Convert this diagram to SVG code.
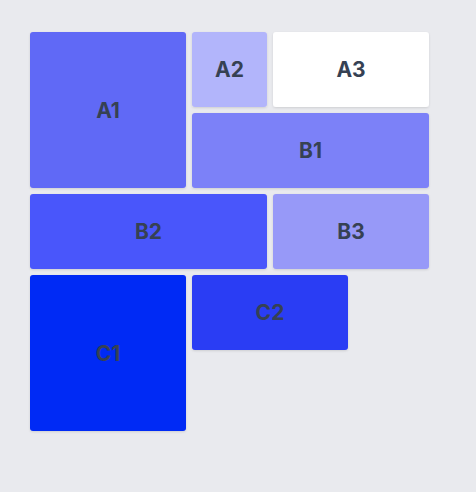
<svg xmlns="http://www.w3.org/2000/svg" width="476" height="492" viewBox="0 0 476 492">
<defs>
<filter id="sh" x="-10%" y="-10%" width="120%" height="130%">
<feDropShadow dx="0" dy="1" stdDeviation="1.2" flood-color="#000" flood-opacity="0.12"/>
</filter>
<style>
.c{filter:url(#sh)}
.t{font-family:Inter,"Liberation Sans",sans-serif;font-weight:700;font-size:21px;fill:#364153;text-anchor:middle;dominant-baseline:central}
</style>
</defs>
<rect width="476" height="492" fill="#e9eaee"/>
<g id="A1"><rect class="c" x="30" y="32" width="156" height="156" rx="3" fill="#6069f6"/><text class="t" x="108" y="110">A1</text></g>
<g id="A2"><rect class="c" x="192" y="32" width="75" height="75" rx="3" fill="#b2b5fb"/><text class="t" x="229.5" y="69.5">A2</text></g>
<g id="A3"><rect class="c" x="273" y="32" width="156" height="75" rx="3" fill="#ffffff"/><text class="t" x="351" y="69.5">A3</text></g>
<g id="B1"><rect class="c" x="192" y="113" width="237" height="75" rx="3" fill="#7c81f8"/><text class="t" x="310.5" y="150.5">B1</text></g>
<g id="B2"><rect class="c" x="30" y="194" width="237" height="75" rx="3" fill="#4a57fb"/><text class="t" x="148.5" y="231.5">B2</text></g>
<g id="B3"><rect class="c" x="273" y="194" width="156" height="75" rx="3" fill="#9799f8"/><text class="t" x="351" y="231.5">B3</text></g>
<g id="C1"><rect class="c" x="30" y="275" width="156" height="156" rx="3" fill="#0029f5"/><text class="t" x="108" y="353">C1</text></g>
<g id="C2"><rect class="c" x="192" y="275" width="156" height="75" rx="3" fill="#2b3cf4"/><text class="t" x="270" y="312.5">C2</text></g>
<g id="connectors"/>
</svg>
